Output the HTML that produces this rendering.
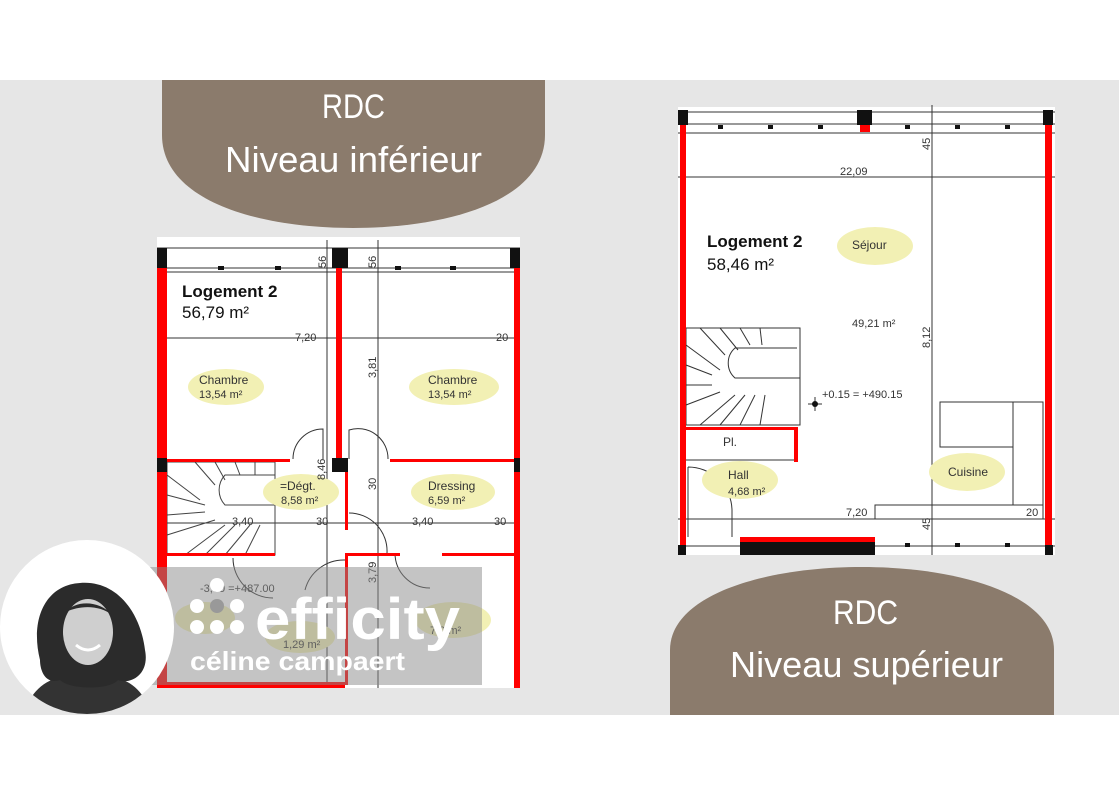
<!DOCTYPE html>
<html><head><meta charset="utf-8"><style>
html,body{margin:0;padding:0;background:#fff}
svg{display:block}
text{font-family:"Liberation Sans",sans-serif}
</style></head><body>
<svg width="1119" height="800" viewBox="0 0 1119 800" xmlns="http://www.w3.org/2000/svg">
<rect x="0" y="0" width="1119" height="800" fill="#fff"/>
<rect x="0" y="80" width="1119" height="635" fill="#e6e6e6"/>

<!-- top brown shape -->
<path d="M162,80 H545 V135 C545,200 450,228 353,228 C256,228 162,200 162,135 Z" fill="#8b7b6c"/>
<text x="322" y="118" font-size="34" fill="#fff" textLength="63" lengthAdjust="spacingAndGlyphs">RDC</text>
<text x="225" y="172" font-size="36" fill="#fff" textLength="257" lengthAdjust="spacingAndGlyphs">Niveau inférieur</text>

<!-- bottom brown shape -->
<path d="M670,715 H1054 V650 C1054,595 960,567 862,567 C764,567 670,595 670,650 Z" fill="#8b7b6c"/>
<text x="833" y="624" font-size="34" fill="#fff" textLength="65" lengthAdjust="spacingAndGlyphs">RDC</text>
<text x="730" y="677" font-size="36" fill="#fff" textLength="273" lengthAdjust="spacingAndGlyphs">Niveau supérieur</text>

<!-- LEFT PLAN -->
<g>
<rect x="157" y="237" width="363" height="451" fill="#fff"/>
<g stroke="#333" stroke-width="1" fill="none">
<line x1="157" y1="248" x2="520" y2="248"/>
<line x1="157" y1="268" x2="520" y2="268"/>
<line x1="157" y1="272" x2="520" y2="272"/>
<line x1="157" y1="338" x2="520" y2="338"/>
<line x1="157" y1="523" x2="520" y2="523"/>
<line x1="327" y1="240" x2="327" y2="688"/>
<line x1="378" y1="240" x2="378" y2="688"/>
<path d="M293,459 A30,30 0 0 1 323,429 V459"/>
<path d="M349,459 V430 A30,30 0 0 1 388,459"/>
<path d="M349,513 A38,38 0 0 1 387,553"/>
<path d="M395,553 A35,35 0 0 0 430,588"/>
<path d="M233,558 A40,40 0 0 0 273,598"/>
<path d="M305,590 A40,40 0 0 1 345,560"/>
</g>
<g stroke="#444" stroke-width="1" fill="none">
<rect x="167" y="462" width="108" height="93"/>
<path d="M275,505 H225 A22,22 0 0 1 225,475 H275"/>
<line x1="167" y1="475" x2="200" y2="500"/>
<line x1="167" y1="495" x2="205" y2="505"/>
<line x1="167" y1="515" x2="205" y2="512"/>
<line x1="167" y1="535" x2="215" y2="520"/>
<line x1="185" y1="555" x2="225" y2="525"/>
<line x1="205" y1="555" x2="235" y2="525"/>
<line x1="225" y1="555" x2="250" y2="525"/>
<line x1="245" y1="555" x2="260" y2="525"/>
<line x1="195" y1="462" x2="215" y2="485"/>
<line x1="215" y1="462" x2="225" y2="480"/>
<line x1="235" y1="462" x2="240" y2="475"/>
<line x1="255" y1="462" x2="255" y2="475"/>
</g>
<g fill="#f00">
<rect x="157" y="268" width="10" height="420"/>
<rect x="514" y="268" width="6" height="420"/>
<rect x="336" y="268" width="6" height="192"/>
<rect x="167" y="459" width="123" height="3"/>
<rect x="390" y="459" width="124" height="3"/>
<rect x="345" y="472" width="3" height="58"/>
<rect x="345" y="553" width="3" height="132"/>
<rect x="345" y="553" width="55" height="3"/>
<rect x="442" y="553" width="72" height="3"/>
<rect x="167" y="553" width="108" height="3"/>
<rect x="157" y="682" width="188" height="6"/>
</g>
<g fill="#111">
<rect x="157" y="248" width="10" height="20"/>
<rect x="332" y="248" width="16" height="20"/>
<rect x="510" y="248" width="10" height="20"/>
<rect x="332" y="458" width="16" height="14"/>
<rect x="157" y="458" width="10" height="14"/>
<rect x="514" y="458" width="6" height="14"/>
<rect x="218" y="266" width="6" height="4"/><rect x="275" y="266" width="6" height="4"/>
<rect x="395" y="266" width="6" height="4"/><rect x="450" y="266" width="6" height="4"/>
</g>
<g fill="#f2f0b4">
<ellipse cx="226" cy="387" rx="38" ry="18"/>
<ellipse cx="454" cy="387" rx="45" ry="18"/>
<ellipse cx="301" cy="492" rx="38" ry="18"/>
<ellipse cx="453" cy="492" rx="42" ry="18"/>
<ellipse cx="205" cy="618" rx="30" ry="16"/>
<ellipse cx="300" cy="637" rx="35" ry="16"/>
<ellipse cx="453" cy="620" rx="38" ry="18"/>
</g>
<g font-size="12" fill="#333">
<text x="199" y="384">Chambre</text><text x="199" y="398" font-size="11">13,54 m²</text>
<text x="428" y="384">Chambre</text><text x="428" y="398" font-size="11">13,54 m²</text>
<text x="280" y="490">=Dégt.</text><text x="281" y="504" font-size="11">8,58 m²</text>
<text x="428" y="490">Dressing</text><text x="428" y="504" font-size="11">6,59 m²</text>
<text x="295" y="341" font-size="11">7,20</text>
<text x="496" y="341" font-size="11">20</text>
<text x="232" y="525" font-size="11">3,40</text>
<text x="316" y="525" font-size="11">30</text>
<text x="412" y="525" font-size="11">3,40</text>
<text x="494" y="525" font-size="11">30</text>
<text x="200" y="592" font-size="11">-3,00 =+487.00</text>
<text x="283" y="648" font-size="11">1,29 m²</text>
<text x="430" y="634" font-size="11">7,0 m²</text>
<text transform="translate(326,268) rotate(-90)" font-size="11">56</text>
<text transform="translate(376,268) rotate(-90)" font-size="11">56</text>
<text transform="translate(376,378) rotate(-90)" font-size="11">3,81</text>
<text transform="translate(325,480) rotate(-90)" font-size="11">8,46</text>
<text transform="translate(376,490) rotate(-90)" font-size="11">30</text>
<text transform="translate(376,583) rotate(-90)" font-size="11">3,79</text>
</g>
<text x="182" y="297" font-size="17" font-weight="bold" fill="#111">Logement 2</text>
<text x="182" y="318" font-size="17" fill="#111">56,79 m²</text>
</g>

<!-- overlay efficity -->
<rect x="150" y="567" width="332" height="118" fill="#8a8a8a" fill-opacity="0.5"/>
<g fill="#fff">
<circle cx="217" cy="585" r="7"/>
<circle cx="197" cy="606" r="7"/><circle cx="217" cy="606" r="7" fill="#999"/><circle cx="237" cy="606" r="7"/>
<circle cx="197" cy="627" r="7"/><circle cx="217" cy="627" r="7"/><circle cx="237" cy="627" r="7"/>
</g>
<text x="255" y="639" font-size="58" font-weight="bold" fill="#fff" textLength="205" lengthAdjust="spacingAndGlyphs">efficity</text>
<text x="190" y="670" font-size="26" font-weight="bold" fill="#fff" textLength="215" lengthAdjust="spacingAndGlyphs">céline campaert</text>

<!-- photo circle -->
<circle cx="87" cy="627" r="87" fill="#fff"/>
<clipPath id="cc"><circle cx="87" cy="627" r="87"/></clipPath>
<g clip-path="url(#cc)">
<path d="M30,700 C40,680 65,672 87,675 C110,672 135,680 145,700 L150,720 L25,720 Z" fill="#333"/>
<path d="M40,660 C30,620 45,585 80,583 C115,580 140,610 145,650 C150,675 130,685 118,680 C110,690 70,690 60,680 C45,685 40,670 40,660 Z" fill="#2b2b2b"/>
<ellipse cx="88" cy="632" rx="25" ry="33" fill="#cfcfcf"/>
<path d="M66,612 C75,600 100,600 112,615 C100,605 80,605 66,612 Z" fill="#2b2b2b"/>
<path d="M76,645 Q88,655 100,645" stroke="#fff" stroke-width="3" fill="none"/>
</g>

<!-- RIGHT PLAN -->
<g>
<rect x="678" y="107" width="377" height="448" fill="#fff"/>
<g stroke="#333" stroke-width="1" fill="none">
<line x1="678" y1="112" x2="1055" y2="112"/>
<line x1="678" y1="124" x2="1055" y2="124"/>
<line x1="678" y1="133" x2="1055" y2="133"/>
<line x1="678" y1="177" x2="1055" y2="177"/>
<line x1="932" y1="105" x2="932" y2="555"/>
<line x1="678" y1="519" x2="1055" y2="519"/>
<line x1="678" y1="546" x2="1055" y2="546"/>
<rect x="940" y="402" width="73" height="45"/>
<rect x="1013" y="402" width="30" height="103"/>
<rect x="875" y="505" width="168" height="14"/>
<path d="M688,467 A44,44 0 0 1 732,510 V537 M688,467 V537"/>
<rect x="686" y="328" width="114" height="97"/>
<path d="M800,378 H735 A20,20 0 0 1 735,348 H797"/>
<line x1="686" y1="345" x2="720" y2="370"/><line x1="686" y1="365" x2="712" y2="375"/>
<line x1="686" y1="385" x2="712" y2="385"/><line x1="686" y1="405" x2="720" y2="392"/>
<line x1="700" y1="425" x2="735" y2="395"/><line x1="720" y1="425" x2="745" y2="395"/>
<line x1="740" y1="425" x2="755" y2="395"/><line x1="760" y1="425" x2="765" y2="395"/>
<line x1="700" y1="328" x2="725" y2="355"/><line x1="720" y1="328" x2="738" y2="350"/>
<line x1="740" y1="328" x2="750" y2="345"/><line x1="760" y1="328" x2="762" y2="345"/>
<line x1="686" y1="460" x2="796" y2="460"/>
<line x1="808" y1="404" x2="822" y2="404"/><line x1="815" y1="397" x2="815" y2="411"/>
</g>
<circle cx="815" cy="404" r="3" fill="#111"/>
<g fill="#f00">
<rect x="680" y="125" width="6" height="425"/>
<rect x="1045" y="125" width="7" height="425"/>
<rect x="686" y="427" width="112" height="3"/>
<rect x="794" y="427" width="4" height="35"/>
<rect x="740" y="537" width="135" height="5"/>
<rect x="860" y="125" width="10" height="7"/>
</g>
<g fill="#111">
<rect x="678" y="110" width="10" height="15"/>
<rect x="857" y="110" width="15" height="15"/>
<rect x="1043" y="110" width="10" height="15"/>
<rect x="740" y="542" width="135" height="13"/>
<rect x="678" y="545" width="8" height="10"/>
<rect x="1045" y="545" width="8" height="10"/>
<rect x="718" y="125" width="5" height="4"/><rect x="768" y="125" width="5" height="4"/><rect x="818" y="125" width="5" height="4"/>
<rect x="905" y="125" width="5" height="4"/><rect x="955" y="125" width="5" height="4"/><rect x="1005" y="125" width="5" height="4"/>
<rect x="905" y="543" width="5" height="4"/><rect x="955" y="543" width="5" height="4"/><rect x="1005" y="543" width="5" height="4"/>
</g>
<g fill="#f2f0b4">
<ellipse cx="875" cy="246" rx="38" ry="19"/>
<ellipse cx="740" cy="480" rx="38" ry="19"/>
<ellipse cx="967" cy="472" rx="38" ry="19"/>
</g>
<g font-size="12" fill="#333">
<text x="852" y="249">Séjour</text>
<text x="728" y="479">Hall</text><text x="728" y="495" font-size="11">4,68 m²</text>
<text x="948" y="476">Cuisine</text>
<text x="723" y="446">Pl.</text>
<text x="852" y="327" font-size="11">49,21 m²</text>
<text x="822" y="398" font-size="11">+0.15 = +490.15</text>
<text x="840" y="175" font-size="11">22,09</text>
<text x="846" y="516" font-size="11">7,20</text>
<text x="1026" y="516" font-size="11">20</text>
<text transform="translate(930,150) rotate(-90)" font-size="11">45</text>
<text transform="translate(930,348) rotate(-90)" font-size="11">8,12</text>
<text transform="translate(930,530) rotate(-90)" font-size="11">45</text>
</g>
<text x="707" y="247" font-size="17" font-weight="bold" fill="#111">Logement 2</text>
<text x="707" y="270" font-size="17" fill="#111">58,46 m²</text>
</g>
</svg>
</body></html>
